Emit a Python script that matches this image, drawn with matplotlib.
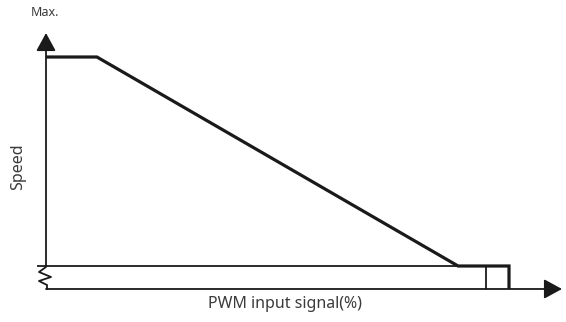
import matplotlib
matplotlib.use("Agg")
import matplotlib.pyplot as plt

# Data (PWM % vs relative speed %)
pwm = [0, 11, 89, 100]
speed = [100, 100, 0, 0]
pwm_mark = 95          # thin vertical marker
min_level = 0          # minimum-speed line
axis_level = -11       # x axis (below the break)
x_label = "PWM input signal(%)"
y_label = "Speed"
y_top_label = "Max."

W, H = 566, 322
fig = plt.figure(figsize=(W / 100, H / 100), dpi=100)
ax = fig.add_axes([0, 0, 1, 1])
ax.set_axis_off()
# pixel mapping: x=0 -> px 46, x=100 -> px 509; y=0 -> px 266, y=100 -> px 57
sx = (509 - 46) / 100
sy = (266 - 57) / 100
ax.set_xlim(-46 / sx, (W - 46) / sx)
ax.set_ylim(-(H - 266) / sy, 266 / sy)

black = "#1a1a1a"
thin = 1.3
thick = 2.3

# min speed thin line
ax.plot([-9 / sx, pwm[2]], [min_level, min_level], color=black, lw=thin,
        solid_capstyle="butt")
astyle = "-|>,head_length=1.1,head_width=0.6"
# y axis with arrow
ax.annotate("", xy=(0, 266 / sy - 33 / sy), xytext=(0, min_level),
            arrowprops=dict(arrowstyle=astyle,
                            mutation_scale=10, lw=thin, color=black,
                            shrinkA=0, shrinkB=0))
# x axis with arrow
ax.annotate("", xy=((562 - 46) / sx, axis_level), xytext=(0, axis_level),
            arrowprops=dict(arrowstyle=astyle,
                            mutation_scale=10, lw=thin, color=black,
                            shrinkA=0, shrinkB=0))
# break zigzag
zx = [0, 0, -7 / sx, 5 / sx, -7 / sx, 1 / sx, 1 / sx]
zy = [min_level, -1 / sy, -6 / sy, -11 / sy, -15 / sy, -19 / sy, axis_level]
ax.plot(zx, zy, color=black, lw=thin)

# thin vertical marker
ax.plot([pwm_mark, pwm_mark], [min_level, axis_level], color=black, lw=thin)

# main speed curve
ax.plot(pwm + [pwm[-1]], speed + [axis_level], color=black, lw=thick,
        solid_joinstyle="miter", solid_capstyle="butt")

font = "Noto Sans"
tc = "#3a3a3a"
fig.text(45 / W, 1 - 13 / H, y_top_label, ha="center", va="center",
         fontsize=9, color=tc, family=font, fontweight="light")
fig.text(285 / W, 1 - 304 / H, x_label, ha="center", va="center",
         fontsize=11.5, color=tc, family=font, fontweight="light")
fig.text(18 / W, 1 - 167 / H, y_label, ha="center", va="center",
         rotation=90, fontsize=11.5, color=tc, family=font, fontweight="light")

fig.savefig("out.png", dpi=100)
